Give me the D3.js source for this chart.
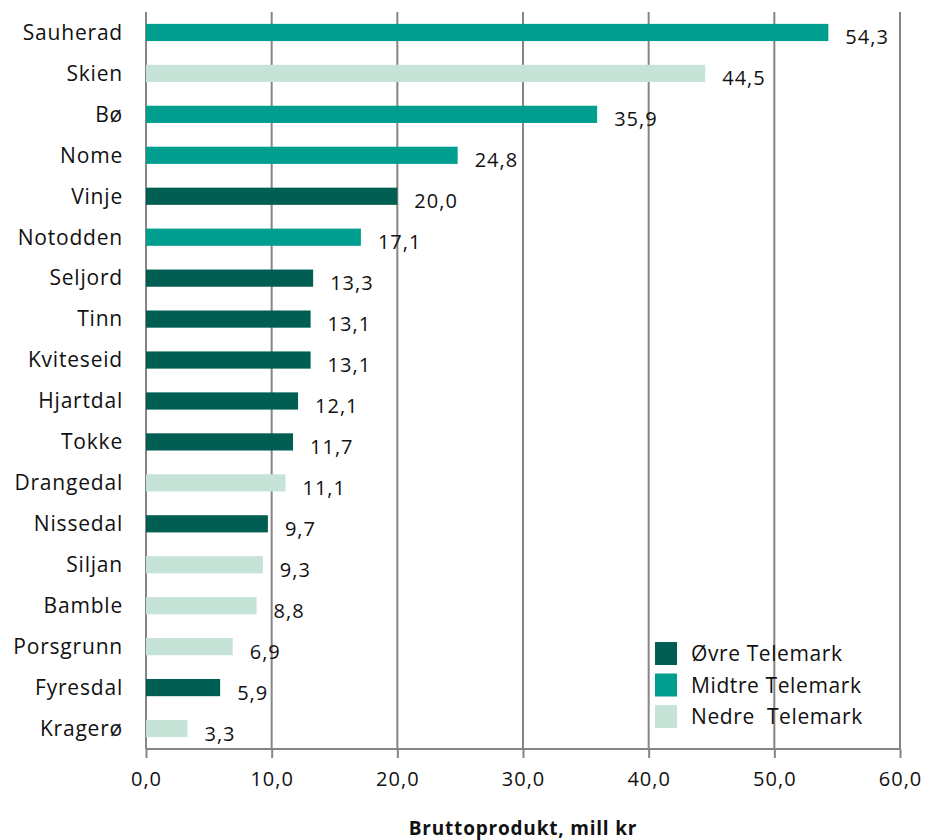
<!DOCTYPE html>
<html><head><meta charset="utf-8">
<script src="https://cdn.jsdelivr.net/npm/d3@7"></script>
<style>body{margin:0;background:#fff;} text{font-family:"Open Sans",sans-serif;fill:#111;letter-spacing:1px;}</style>
</head><body>
<svg id="c" width="928" height="840"></svg>
<script>
const categories = ["Sauherad","Skien","Bø","Nome","Vinje","Notodden","Seljord","Tinn","Kviteseid","Hjartdal","Tokke","Drangedal","Nissedal","Siljan","Bamble","Porsgrunn","Fyresdal","Kragerø"];
const values = [54.3,44.5,35.9,24.8,20.0,17.1,13.3,13.1,13.1,12.1,11.7,11.1,9.7,9.3,8.8,6.9,5.9,3.3];
const regions = ["Midtre","Nedre","Midtre","Midtre","Øvre","Midtre","Øvre","Øvre","Øvre","Øvre","Øvre","Nedre","Øvre","Nedre","Nedre","Nedre","Øvre","Nedre"];
const seriesNames = ["Øvre","Midtre","Nedre"];
const legendLabels = ["Øvre Telemark","Midtre Telemark","Nedre  Telemark"];
const xTicks = [0,10,20,30,40,50,60];
const axisTitle = "Bruttoprodukt, mill kr";

const colors = {"Øvre":"#005f52","Midtre":"#009e8f","Nedre":"#c6e3d8"};
const fmt = v => d3.format(".1f")(v).replace(".", ",");

const svg = d3.select("#c");
const m = {l:146, r:28, t:12, b:91};
const W = 928, H = 840;
const x = d3.scaleLinear().domain([0,60]).range([m.l, W-m.r]);
const y = d3.scaleBand().domain(categories).range([m.t, H-m.b]).paddingInner(0.58).paddingOuter(0.29);

// grid
svg.append("g").selectAll("line").data(xTicks).join("line")
  .attr("x1", d=>x(d)).attr("x2", d=>x(d)).attr("y1", m.t).attr("y2", H-m.b)
  .attr("stroke","#858585").attr("stroke-width",2);

// bars
svg.append("g").selectAll("rect").data(categories).join("rect")
  .attr("x", x(0)).attr("y", d=>y(d)).attr("height", y.bandwidth())
  .attr("width", (d,i)=>x(values[i])-x(0))
  .attr("fill", (d,i)=>colors[regions[i]]);

// value labels
svg.append("g").selectAll("text").data(categories).join("text")
  .attr("x", (d,i)=>x(values[i])+17).attr("y", d=>y(d)+y.bandwidth()/2+12)
  .attr("font-size",20).text((d,i)=>fmt(values[i]));

// x axis
const xa = svg.append("g").attr("transform",`translate(0,${H-m.b})`)
  .call(d3.axisBottom(x).tickValues(xTicks).tickFormat(fmt).tickSize(9).tickPadding(14));
xa.select(".domain").attr("stroke","#858585").attr("stroke-width",2).attr("d",`M${x(0)},0H${x(60)}`);
xa.selectAll(".tick line").attr("stroke","#858585").attr("stroke-width",2);
xa.selectAll(".tick text").attr("font-size",20).attr("font-family","Open Sans").attr("fill","#111");

// y labels
svg.append("g").selectAll("text").data(categories).join("text")
  .attr("x", 123).attr("y", d=>y(d)+y.bandwidth()/2).attr("dy","0.35em")
  .attr("text-anchor","end").attr("font-size",21).style("letter-spacing","0.8px").text(d=>d);

// axis title
svg.append("text").attr("x", (x(0)+x(60))/2).attr("y", 835).attr("text-anchor","middle")
  .attr("font-size",19).attr("font-weight","bold").style("letter-spacing","0.8px").text(axisTitle);

// legend
const lg = svg.append("g").attr("transform","translate(655,642)");
seriesNames.forEach((s,i)=>{
  lg.append("rect").attr("x",0).attr("y",i*31.5).attr("width",22).attr("height",23).attr("fill",colors[s]);
  lg.append("text").attr("x",36).attr("y",i*31.5+12).attr("dy","0.35em").attr("font-size",21).style("letter-spacing","0.6px").attr("xml:space","preserve").text(legendLabels[i]);
});
</script>
</body></html>
